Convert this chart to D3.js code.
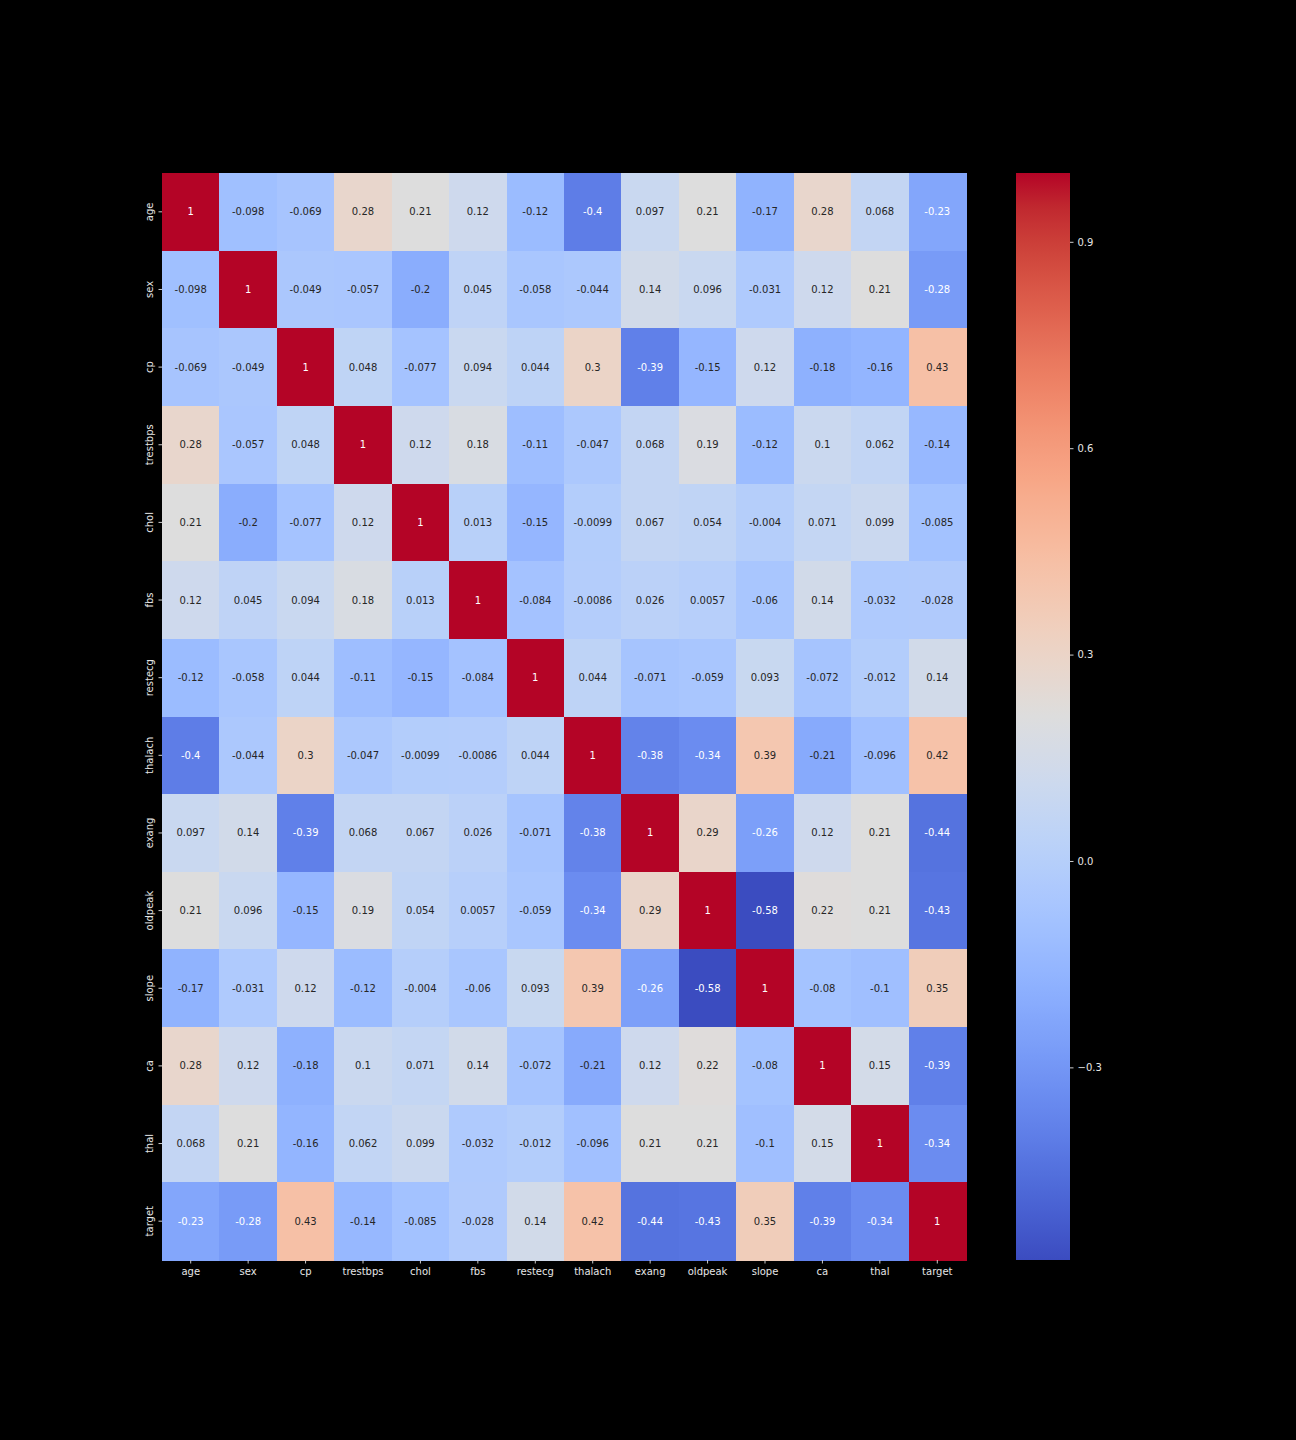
<html>
<head>
<script src="https://d3js.org/d3.v7.min.js"></script>
<style>
  body { margin: 0; background: #000; }
  text { font-family: "DejaVu Sans", sans-serif; }
</style>
</head>
<body>
<script>
var w = 1296, h = 1440;

// column / row names
var cols = ["age", "sex", "cp", "trestbps", "chol", "fbs", "restecg", "thalach",
            "exang", "oldpeak", "slope", "ca", "thal", "target"];

// correlation values, one array per row
var age      = [1, -0.098, -0.069, 0.28, 0.21, 0.12, -0.12, -0.4, 0.097, 0.21, -0.17, 0.28, 0.068, -0.23];
var sex      = [-0.098, 1, -0.049, -0.057, -0.2, 0.045, -0.058, -0.044, 0.14, 0.096, -0.031, 0.12, 0.21, -0.28];
var cp       = [-0.069, -0.049, 1, 0.048, -0.077, 0.094, 0.044, 0.3, -0.39, -0.15, 0.12, -0.18, -0.16, 0.43];
var trestbps = [0.28, -0.057, 0.048, 1, 0.12, 0.18, -0.11, -0.047, 0.068, 0.19, -0.12, 0.1, 0.062, -0.14];
var chol     = [0.21, -0.2, -0.077, 0.12, 1, 0.013, -0.15, -0.0099, 0.067, 0.054, -0.004, 0.071, 0.099, -0.085];
var fbs      = [0.12, 0.045, 0.094, 0.18, 0.013, 1, -0.084, -0.0086, 0.026, 0.0057, -0.06, 0.14, -0.032, -0.028];
var restecg  = [-0.12, -0.058, 0.044, -0.11, -0.15, -0.084, 1, 0.044, -0.071, -0.059, 0.093, -0.072, -0.012, 0.14];
var thalach  = [-0.4, -0.044, 0.3, -0.047, -0.0099, -0.0086, 0.044, 1, -0.38, -0.34, 0.39, -0.21, -0.096, 0.42];
var exang    = [0.097, 0.14, -0.39, 0.068, 0.067, 0.026, -0.071, -0.38, 1, 0.29, -0.26, 0.12, 0.21, -0.44];
var oldpeak  = [0.21, 0.096, -0.15, 0.19, 0.054, 0.0057, -0.059, -0.34, 0.29, 1, -0.58, 0.22, 0.21, -0.43];
var slope    = [-0.17, -0.031, 0.12, -0.12, -0.004, -0.06, 0.093, 0.39, -0.26, -0.58, 1, -0.08, -0.1, 0.35];
var ca       = [0.28, 0.12, -0.18, 0.1, 0.071, 0.14, -0.072, -0.21, 0.12, 0.22, -0.08, 1, 0.15, -0.39];
var thal     = [0.068, 0.21, -0.16, 0.062, 0.099, -0.032, -0.012, -0.096, 0.21, 0.21, -0.1, 0.15, 1, -0.34];
var target   = [-0.23, -0.28, 0.43, -0.14, -0.085, -0.028, 0.14, 0.42, -0.44, -0.43, 0.35, -0.39, -0.34, 1];

var rows = [age, sex, cp, trestbps, chol, fbs, restecg, thalach, exang, oldpeak, slope, ca, thal, target];

// colorbar ticks
var cbarTicks = [-0.3, 0.0, 0.3, 0.6, 0.9];

// coolwarm colormap stops (Moreland)
var cw = [[59,76,192],[68,90,204],[77,104,215],[87,117,225],[98,130,234],[108,142,241],
  [119,154,247],[130,165,251],[141,176,254],[152,185,255],[163,194,255],[174,201,253],
  [184,208,249],[194,213,244],[204,217,238],[213,219,230],[221,221,221],[229,216,209],
  [236,211,197],[241,204,184],[245,196,172],[247,187,159],[247,177,147],[247,166,134],
  [244,154,123],[241,141,111],[236,127,99],[229,112,89],[222,96,77],[213,80,66],
  [203,62,56],[192,40,47],[180,4,38]];
var coolwarm = d3.piecewise(d3.interpolateRgb, cw.map(function(c){ return d3.rgb(c[0], c[1], c[2]); }));

var cells = [];
rows.forEach(function(r, i){
  r.forEach(function(v, j){ cells.push({row: cols[i], col: cols[j], v: v}); });
});

var vmin = d3.min(cells, function(d){ return d.v; });
var vmax = d3.max(cells, function(d){ return d.v; });
var norm = d3.scaleLinear().domain([vmin, vmax]).range([0, 1]).clamp(true);
function color(v){ return coolwarm(norm(v)); }

var svg = d3.select("body").append("svg").attr("width", w).attr("height", h)
  .style("background", "#000");

var x = d3.scaleBand().domain(cols).range([162, 966]);
var y = d3.scaleBand().domain(cols).range([173, 1260]);

svg.selectAll(".cell").data(cells).enter().append("rect")
  .attr("class", "cell")
  .attr("x", function(d){ return x(d.col); })
  .attr("y", function(d){ return y(d.row); })
  .attr("width", x.bandwidth() + 0.6)
  .attr("height", y.bandwidth() + 0.6)
  .attr("shape-rendering", "crispEdges")
  .attr("fill", function(d){ return color(d.v); });

function lum(c){
  c = d3.rgb(c);
  var f = function(u){ u = u / 255; return u <= 0.03928 ? u / 12.92 : Math.pow((u + 0.055) / 1.055, 2.4); };
  return 0.2126 * f(c.r) + 0.7152 * f(c.g) + 0.0722 * f(c.b);
}

svg.selectAll(".annot").data(cells).enter().append("text")
  .attr("class", "annot")
  .attr("x", function(d){ return x(d.col) + x.bandwidth() / 2; })
  .attr("y", function(d){ return y(d.row) + y.bandwidth() / 2; })
  .attr("text-anchor", "middle")
  .attr("dominant-baseline", "central")
  .attr("font-size", 10)
  .attr("fill", function(d){ return lum(color(d.v)) > 0.408 ? "#262626" : "#ffffff"; })
  .text(function(d){ return String(d.v); });

// axes
var xAxis = svg.append("g").attr("transform", "translate(0,1260)")
  .call(d3.axisBottom(x).tickSize(3.5).tickPadding(4));
var yAxis = svg.append("g").attr("transform", "translate(162,0)")
  .call(d3.axisLeft(y).tickSize(3.5).tickPadding(4));
[xAxis, yAxis].forEach(function(g){
  g.select(".domain").remove();
  g.selectAll("line").attr("stroke", "#cccccc");
  g.selectAll("text").attr("fill", "#e6e6e6").attr("font-size", 10)
    .attr("font-family", "DejaVu Sans, sans-serif");
});
// rotate y labels so they read bottom to top
yAxis.selectAll(".tick text")
  .attr("x", 0).attr("dy", null)
  .attr("text-anchor", "middle")
  .attr("transform", "translate(-9.5,0) rotate(-90)");

// colorbar
var cb = {x0: 1016, x1: 1070, y0: 173, y1: 1260};
var cy = d3.scaleLinear().domain([vmin, vmax]).range([cb.y1, cb.y0]);
var defs = svg.append("defs");
var grad = defs.append("linearGradient").attr("id", "cwgrad")
  .attr("x1", 0).attr("y1", 1).attr("x2", 0).attr("y2", 0);
d3.range(0, 1.0001, 1 / 64).forEach(function(t){
  grad.append("stop").attr("offset", t).attr("stop-color", coolwarm(t));
});
svg.append("rect")
  .attr("x", cb.x0).attr("y", cb.y0)
  .attr("width", cb.x1 - cb.x0).attr("height", cb.y1 - cb.y0)
  .attr("fill", "url(#cwgrad)");

var cAxis = svg.append("g").attr("transform", "translate(" + cb.x1 + ",0)")
  .call(d3.axisRight(cy).tickValues(cbarTicks).tickSize(3.5).tickPadding(4)
    .tickFormat(function(d){ return d < 0 ? "\u2212" + d3.format(".1f")(-d) : d3.format(".1f")(d); }));
cAxis.select(".domain").remove();
cAxis.selectAll("line").attr("stroke", "#cccccc");
cAxis.selectAll("text").attr("fill", "#e6e6e6").attr("font-size", 10)
  .attr("font-family", "DejaVu Sans, sans-serif");
</script>
</body>
</html>
